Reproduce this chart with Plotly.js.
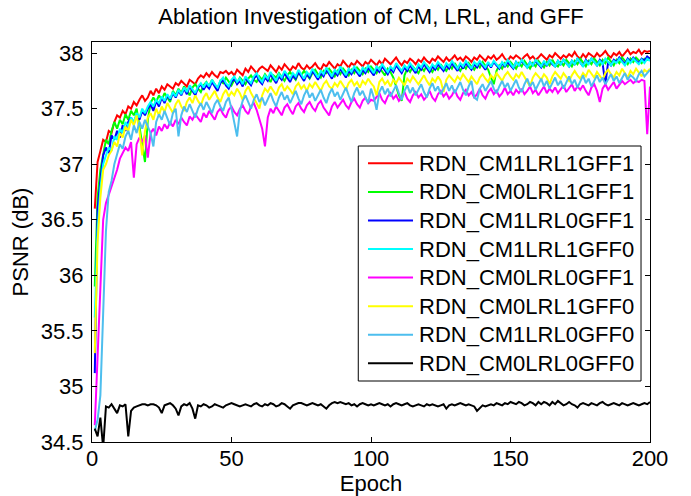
<!DOCTYPE html>
<html>
<head>
<meta charset="utf-8">
<script src="https://cdn.plot.ly/plotly-3.0.1.min.js"></script>
<style>html,body{margin:0;padding:0;background:#fff;}#chart{width:691px;height:496px;}</style>
</head>
<body>
<div id="chart"></div>
<script>
const seriesNames = ["RDN_CM1LRL1GFF1","RDN_CM0LRL1GFF1","RDN_CM1LRL0GFF1","RDN_CM1LRL1GFF0","RDN_CM0LRL0GFF1","RDN_CM0LRL1GFF0","RDN_CM1LRL0GFF0","RDN_CM0LRL0GFF0"];
const seriesColors = ["#FF0000","#00FF00","#0000FF","#00FFFF","#FF00FF","#FFFF00","#4DBEEE","#000000"];
const yTickVals = [34.5,35,35.5,36,36.5,37,37.5,38];
const yTickText = ["34.5","35","35.5","36","36.5","37","37.5","38"];
const xTickVals = [0,50,100,150,200];

const cm1lrl1gff1 = [
36.60,37.02,37.12,37.22,37.20,37.30,37.28,37.38,37.44,37.42,
37.48,37.45,37.52,37.50,37.56,37.53,37.58,37.62,37.57,37.60,
37.66,37.62,37.68,37.64,37.70,37.67,37.72,37.70,37.68,37.73,
37.71,37.75,37.72,37.70,37.76,37.74,37.72,37.77,37.80,37.78,
37.82,37.79,37.83,37.80,37.78,37.83,37.82,37.84,37.81,37.83,
37.80,37.85,37.82,37.80,37.86,37.83,37.88,37.85,37.82,37.86,
37.88,37.86,37.84,37.89,37.86,37.83,37.88,37.85,37.90,37.87,
37.84,37.88,37.86,37.91,37.87,37.85,37.89,37.86,37.88,37.91,
37.87,37.85,37.90,37.88,37.92,37.89,37.86,37.90,37.88,37.93,
37.90,37.87,37.91,37.89,37.93,37.90,37.88,37.92,37.90,37.94,
37.91,37.89,37.93,37.90,37.95,37.92,37.90,37.93,37.96,37.92,
37.89,37.93,37.91,37.95,37.93,37.90,37.94,37.92,37.96,37.93,
37.91,37.95,37.93,37.97,37.94,37.92,37.96,37.93,37.95,37.98,
37.94,37.96,37.93,37.97,37.95,37.92,37.96,37.94,37.98,37.95,
37.93,37.97,37.95,37.98,37.94,37.96,37.99,37.95,37.93,37.97,
37.95,37.98,37.96,37.94,37.97,37.99,37.95,37.97,37.94,37.96,
37.99,37.96,37.94,37.98,37.96,38.00,37.97,37.95,37.98,37.96,
37.99,37.97,38.01,37.97,37.95,37.99,37.96,38.00,37.98,37.96,
38.00,37.97,37.99,38.02,37.98,37.96,38.00,37.98,38.01,37.97,
38.00,38.03,37.99,38.01,38.00,38.03,37.99,38.02,38.01,38.02];

const cm0lrl1gff1 = [
35.90,36.70,36.95,37.10,37.22,37.18,37.30,37.38,37.32,37.40,
37.36,37.45,37.40,37.48,37.44,37.50,37.35,37.18,37.02,37.40,
37.55,37.60,37.56,37.62,37.58,37.64,37.60,37.56,37.66,37.62,
37.68,37.64,37.70,37.66,37.62,37.69,37.72,37.68,37.65,37.71,
37.74,37.70,37.76,37.72,37.68,37.75,37.73,37.78,37.74,37.71,
37.76,37.73,37.78,37.75,37.72,37.77,37.80,37.76,37.74,37.79,
37.76,37.81,37.77,37.74,37.80,37.78,37.82,37.78,37.75,37.80,
37.83,37.79,37.76,37.82,37.80,37.84,37.80,37.77,37.82,37.85,
37.81,37.78,37.84,37.82,37.86,37.82,37.79,37.84,37.81,37.86,
37.83,37.80,37.85,37.82,37.87,37.84,37.81,37.86,37.83,37.88,
37.85,37.82,37.87,37.84,37.80,37.86,37.83,37.78,37.70,37.62,
37.57,37.80,37.86,37.83,37.88,37.85,37.82,37.87,37.84,37.89,
37.86,37.83,37.88,37.85,37.90,37.86,37.84,37.89,37.86,37.91,
37.87,37.84,37.89,37.86,37.91,37.88,37.85,37.90,37.87,37.92,
37.88,37.85,37.78,37.72,37.84,37.89,37.86,37.91,37.88,37.92,
37.89,37.86,37.91,37.88,37.93,37.89,37.86,37.91,37.88,37.93,
37.90,37.87,37.92,37.89,37.94,37.90,37.88,37.92,37.89,37.94,
37.91,37.88,37.93,37.90,37.95,37.91,37.88,37.93,37.90,37.95,
37.92,37.89,37.94,37.91,37.96,37.92,37.89,37.94,37.91,37.96,
37.93,37.90,37.95,37.92,37.96,37.93,37.91,37.95,37.94,37.96];

const cm1lrl0gff1 = [
35.12,36.60,36.85,37.08,37.15,37.10,37.26,37.22,37.30,37.24,
37.35,37.30,37.38,37.42,37.36,37.45,37.40,37.48,37.44,37.50,
37.54,37.48,37.57,37.52,37.60,37.55,37.62,37.58,37.64,37.60,
37.66,37.62,37.68,37.63,37.70,37.66,37.62,37.69,37.72,37.67,
37.71,37.68,37.74,37.70,37.66,37.73,37.76,37.71,37.68,37.74,
37.77,37.72,37.75,37.70,37.78,37.74,37.71,37.77,37.80,37.75,
37.72,37.78,37.75,37.81,37.77,37.73,37.79,37.76,37.82,37.78,
37.74,37.80,37.77,37.83,37.79,37.75,37.81,37.78,37.84,37.80,
37.76,37.82,37.79,37.85,37.81,37.77,37.83,37.80,37.86,37.82,
37.78,37.84,37.81,37.86,37.82,37.79,37.85,37.82,37.87,37.83,
37.80,37.86,37.83,37.88,37.84,37.81,37.86,37.83,37.89,37.85,
37.82,37.87,37.84,37.89,37.85,37.82,37.88,37.85,37.90,37.86,
37.83,37.88,37.85,37.90,37.87,37.84,37.89,37.86,37.91,37.87,
37.84,37.90,37.86,37.91,37.88,37.85,37.90,37.87,37.92,37.88,
37.85,37.91,37.87,37.92,37.89,37.86,37.91,37.88,37.92,37.89,
37.86,37.92,37.89,37.93,37.90,37.87,37.92,37.89,37.93,37.90,
37.87,37.92,37.89,37.94,37.90,37.88,37.93,37.90,37.94,37.91,
37.88,37.93,37.90,37.95,37.91,37.88,37.94,37.91,37.95,37.92,
37.89,37.94,37.91,37.72,37.92,37.89,37.94,37.92,37.96,37.93,
37.90,37.95,37.92,37.96,37.93,37.91,37.95,37.93,37.97,37.95];

const cm1lrl1gff0 = [
35.62,36.40,36.78,37.00,37.08,37.15,37.12,37.25,37.22,37.32,
37.28,37.38,37.34,37.42,37.38,37.46,37.42,37.50,37.46,37.52,
37.56,37.52,37.58,37.55,37.61,37.57,37.63,37.59,37.65,37.61,
37.67,37.63,37.69,37.65,37.71,37.67,37.64,37.70,37.73,37.69,
37.74,37.70,37.76,37.72,37.69,37.75,37.78,37.73,37.70,37.76,
37.79,37.74,37.77,37.72,37.79,37.76,37.73,37.79,37.82,37.77,
37.74,37.80,37.77,37.83,37.79,37.75,37.81,37.78,37.84,37.80,
37.77,37.82,37.79,37.85,37.81,37.77,37.83,37.80,37.86,37.82,
37.78,37.84,37.81,37.87,37.83,37.79,37.85,37.82,37.88,37.84,
37.80,37.86,37.83,37.88,37.84,37.81,37.87,37.84,37.89,37.85,
37.82,37.88,37.85,37.90,37.86,37.83,37.88,37.85,37.91,37.87,
37.84,37.89,37.86,37.91,37.87,37.84,37.90,37.87,37.92,37.88,
37.85,37.90,37.87,37.92,37.89,37.86,37.91,37.88,37.93,37.89,
37.86,37.91,37.88,37.93,37.89,37.86,37.92,37.89,37.93,37.90,
37.87,37.92,37.88,37.93,37.90,37.87,37.92,37.89,37.94,37.90,
37.87,37.92,37.89,37.94,37.90,37.87,37.92,37.89,37.94,37.91,
37.88,37.93,37.89,37.94,37.91,37.88,37.93,37.90,37.94,37.91,
37.88,37.93,37.90,37.95,37.91,37.88,37.93,37.90,37.95,37.92,
37.89,37.93,37.90,37.95,37.92,37.89,37.93,37.91,37.95,37.92,
37.89,37.94,37.91,37.95,37.92,37.90,37.94,37.91,37.95,37.93];

const cm0lrl0gff1 = [
34.65,35.30,36.00,36.50,36.65,36.72,36.80,36.88,36.95,37.05,
37.10,37.15,37.12,37.20,36.88,37.18,37.24,37.20,37.26,37.06,
37.28,37.32,37.26,37.34,37.30,37.36,37.32,37.38,37.34,37.40,
37.36,37.42,37.38,37.35,37.43,37.40,37.45,37.41,37.38,37.46,
37.42,37.48,37.44,37.40,37.47,37.50,37.45,37.42,37.49,37.52,
37.47,37.44,37.50,37.53,37.48,37.45,37.52,37.55,37.49,37.40,
37.32,37.16,37.42,37.50,37.46,37.52,37.48,37.44,37.51,37.54,
37.49,37.45,37.52,37.55,37.50,37.47,37.53,37.56,37.51,37.48,
37.54,37.57,37.51,37.47,37.44,37.52,37.56,37.51,37.55,37.58,
37.53,37.50,37.56,37.59,37.54,37.51,37.57,37.60,37.55,37.58,
37.57,37.60,37.64,37.58,37.55,37.61,37.64,37.59,37.62,37.57,
37.60,37.65,37.59,37.56,37.62,37.65,37.60,37.63,37.58,37.61,
37.66,37.60,37.57,37.63,37.66,37.61,37.64,37.59,37.62,37.67,
37.61,37.58,37.64,37.67,37.62,37.65,37.60,37.63,37.68,37.62,
37.59,37.65,37.68,37.63,37.66,37.61,37.64,37.69,37.63,37.66,
37.62,37.67,37.64,37.68,37.63,37.66,37.70,37.64,37.67,37.62,
37.66,37.70,37.64,37.68,37.65,37.69,37.64,37.67,37.71,37.65,
37.68,37.72,37.66,37.70,37.67,37.71,37.66,37.62,37.69,37.72,
37.66,37.56,37.68,37.72,37.67,37.70,37.74,37.68,37.71,37.75,
37.72,37.74,37.76,37.73,37.75,37.74,37.76,37.75,37.27,37.70];

const cm0lrl1gff0 = [
35.30,36.30,36.70,36.95,37.00,37.08,37.12,37.20,37.16,37.28,
37.24,37.34,37.30,37.40,37.35,37.44,37.30,37.08,37.30,37.42,
37.46,37.40,37.50,37.44,37.52,37.47,37.55,37.50,37.46,37.54,
37.58,37.52,37.48,37.56,37.60,37.55,37.62,37.57,37.53,37.60,
37.64,37.58,37.62,37.66,37.60,37.56,37.63,37.67,37.61,37.65,
37.62,37.68,37.64,37.58,37.66,37.70,37.64,37.60,37.55,37.50,
37.62,37.68,37.65,37.70,37.66,37.62,37.69,37.72,37.66,37.70,
37.67,37.63,37.70,37.73,37.68,37.71,37.66,37.72,37.69,37.74,
37.70,37.66,37.72,37.75,37.70,37.68,37.73,37.70,37.75,37.71,
37.67,37.73,37.76,37.71,37.74,37.69,37.75,37.72,37.77,37.73,
37.70,37.62,37.74,37.77,37.72,37.75,37.70,37.76,37.73,37.78,
37.74,37.71,37.77,37.74,37.79,37.75,37.72,37.76,37.80,37.75,
37.71,37.77,37.74,37.79,37.75,37.65,37.76,37.80,37.77,37.74,
37.79,37.76,37.81,37.77,37.74,37.79,37.76,37.72,37.78,37.81,
37.77,37.74,37.80,37.77,37.82,37.78,37.75,37.80,37.83,37.79,
37.76,37.81,37.78,37.83,37.79,37.74,37.70,37.78,37.82,37.79,
37.76,37.81,37.78,37.72,37.79,37.83,37.80,37.77,37.82,37.79,
37.75,37.80,37.84,37.80,37.77,37.82,37.79,37.85,37.81,37.78,
37.83,37.80,37.76,37.82,37.85,37.81,37.78,37.83,37.80,37.86,
37.82,37.78,37.84,37.81,37.86,37.82,37.79,37.85,37.83,37.86];

const cm1lrl0gff0 = [
34.60,34.70,34.92,35.60,36.40,36.75,36.85,37.00,37.10,37.18,
37.14,37.25,37.30,37.22,37.35,37.28,37.38,37.32,37.40,37.34,
37.28,37.16,37.38,37.45,37.40,37.48,37.42,37.35,37.46,37.50,
37.25,37.44,37.52,37.47,37.54,37.48,37.42,37.50,37.55,37.49,
37.56,37.51,37.46,37.54,37.58,37.52,37.48,37.56,37.60,37.50,
37.38,37.25,37.48,37.57,37.62,37.55,37.50,37.58,37.63,37.56,
37.60,37.53,37.59,37.64,37.57,37.52,37.60,37.65,37.58,37.62,
37.55,37.61,37.66,37.59,37.54,37.62,37.67,37.60,37.64,37.57,
37.62,37.67,37.60,37.55,37.63,37.68,37.61,37.65,37.58,37.64,
37.69,37.62,37.56,37.64,37.69,37.62,37.66,37.60,37.55,37.68,
37.60,37.49,37.65,37.70,37.63,37.68,37.61,37.66,37.71,37.64,
37.58,37.66,37.71,37.64,37.69,37.62,37.67,37.72,37.65,37.60,
37.68,37.73,37.66,37.70,37.63,37.68,37.73,37.66,37.71,37.64,
37.69,37.74,37.67,37.62,37.70,37.75,37.60,37.58,37.68,37.72,
37.66,37.71,37.75,37.68,37.64,37.70,37.75,37.69,37.73,37.66,
37.71,37.76,37.69,37.65,37.72,37.77,37.70,37.74,37.67,37.72,
37.77,37.70,37.75,37.68,37.73,37.78,37.71,37.75,37.68,37.74,
37.79,37.72,37.76,37.69,37.74,37.80,37.73,37.77,37.70,37.75,
37.80,37.74,37.78,37.72,37.76,37.81,37.75,37.79,37.73,37.77,
37.82,37.76,37.80,37.78,37.75,37.81,37.84,37.79,37.82,37.85];

const cm0lrl0gff0 = [
34.62,34.55,34.72,34.45,34.82,34.81,34.84,34.80,34.76,34.83,
34.82,34.84,34.55,34.78,34.81,34.82,34.83,34.84,34.84,34.83,
34.84,34.84,34.83,34.81,34.76,34.83,34.84,34.85,34.83,34.80,
34.74,34.82,34.84,34.83,34.85,34.80,34.71,34.83,34.82,34.84,
34.83,34.81,34.82,34.84,34.83,34.82,34.81,34.83,34.84,34.85,
34.84,34.83,34.82,34.83,34.84,34.83,34.82,34.84,34.85,34.83,
34.82,34.84,34.83,34.85,34.84,34.82,34.83,34.85,34.84,34.82,
34.80,34.83,34.84,34.85,34.85,34.84,34.83,34.84,34.85,34.84,
34.83,34.84,34.82,34.80,34.83,34.85,34.86,34.85,34.86,34.85,
34.84,34.85,34.83,34.84,34.82,34.84,34.85,34.84,34.83,34.84,
34.83,34.84,34.85,34.84,34.83,34.84,34.82,34.84,34.85,34.84,
34.83,34.84,34.85,34.83,34.82,34.83,34.84,34.83,34.82,34.84,
34.83,34.84,34.83,34.82,34.83,34.84,34.80,34.83,34.84,34.83,
34.84,34.85,34.84,34.83,34.84,34.83,34.82,34.78,34.81,34.83,
34.82,34.83,34.84,34.83,34.85,34.84,34.83,34.85,34.84,34.86,
34.85,34.84,34.86,34.85,34.83,34.84,34.86,34.85,34.83,34.86,
34.84,34.86,34.85,34.83,34.86,34.84,34.87,34.85,34.83,34.84,
34.86,34.84,34.83,34.81,34.84,34.85,34.84,34.83,34.85,34.84,
34.83,34.85,34.86,34.84,34.83,34.84,34.85,34.84,34.83,34.85,
34.84,34.83,34.84,34.85,34.84,34.83,34.84,34.85,34.84,34.86];

const allSeries = [cm1lrl1gff1, cm0lrl1gff1, cm1lrl0gff1, cm1lrl1gff0, cm0lrl0gff1, cm0lrl1gff0, cm1lrl0gff0, cm0lrl0gff0];

const FONT = "Liberation Sans, Arial, Helvetica, sans-serif";
const FS = 22;

const traces = allSeries.map((ys, i) => ({
  type: "scatter",
  mode: "lines",
  name: seriesNames[i],
  x: ys.map((_, k) => k + 1),
  y: ys,
  line: {color: seriesColors[i], width: 2},
  showlegend: false
}));

/* Legend box drawn in plot-area (paper) coordinates, MATLAB style */
const LEG = {x0: 0.4772, x1: 0.9839, y0: 0.1525, y1: 0.74, lineX0: 0.4946, lineX1: 0.5753, textX: 0.5842, firstRow: 0.6967, rowStep: 0.07143};
const shapes = [{type: "rect", xref: "paper", yref: "paper", x0: LEG.x0, x1: LEG.x1, y0: LEG.y0, y1: LEG.y1,
  line: {color: "#000", width: 1}, fillcolor: "#fff", layer: "above"}];
const annotations = [];
seriesNames.forEach((nm, i) => {
  const yy = LEG.firstRow - i * LEG.rowStep;
  shapes.push({type: "line", xref: "paper", yref: "paper", x0: LEG.lineX0, x1: LEG.lineX1, y0: yy, y1: yy,
    line: {color: seriesColors[i], width: 2}, layer: "above"});
  annotations.push({xref: "paper", yref: "paper", x: LEG.textX, y: yy, xanchor: "left", yanchor: "middle",
    text: nm, showarrow: false, font: {family: FONT, size: FS, color: "#000"}, borderpad: 0});
});

const layout = {
  width: 691, height: 496,
  margin: {l: 92, r: 41, t: 42, b: 54, pad: 0},
  paper_bgcolor: "#fff", plot_bgcolor: "#fff",
  font: {family: FONT, size: FS, color: "#000"},
  title: {text: "Ablation Investigation of CM, LRL, and GFF", font: {family: FONT, size: FS, color: "#000"}, x: 0.5, xref: "paper", y: 0.968, yanchor: "middle"},
  showlegend: false,
  shapes: shapes,
  annotations: annotations,
  xaxis: {
    range: [0, 200], tickvals: xTickVals, ticks: "inside", ticklen: 5, tickcolor: "#000",
    showline: true, linecolor: "#000", linewidth: 1, mirror: "ticks", showgrid: false, zeroline: false,
    tickfont: {family: FONT, size: FS, color: "#000"}, ticklabelstandoff: -3,
    title: {text: "Epoch", font: {family: FONT, size: FS, color: "#000"}, standoff: 5}
  },
  yaxis: {
    range: [34.5, 38.1], tickvals: yTickVals, ticktext: yTickText, ticks: "inside", ticklen: 5, tickcolor: "#000",
    showline: true, linecolor: "#000", linewidth: 1, mirror: "ticks", showgrid: false, zeroline: false,
    tickfont: {family: FONT, size: FS, color: "#000"}, ticklabelstandoff: 3,
    title: {text: "PSNR (dB)", font: {family: FONT, size: FS, color: "#000"}, standoff: 6}
  }
};

Plotly.newPlot("chart", traces, layout, {displayModeBar: false, staticPlot: true});
</script>
</body>
</html>
